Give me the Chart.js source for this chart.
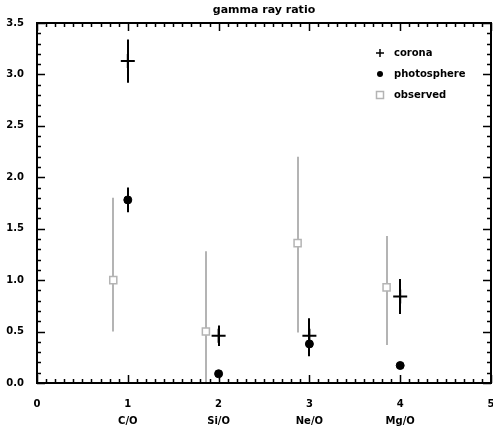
<!DOCTYPE html>
<html>
<head>
<meta charset="utf-8">
<script src="https://cdn.jsdelivr.net/npm/chart.js@4"></script>
<style>
  html, body { margin: 0; padding: 0; background: #fff; overflow: hidden; }
  /* a little wider than the window so the last x label may hang off the edge */
  #wrap { width: 500px; height: 430px; }
</style>
</head>
<body>
<div id="wrap"><canvas id="chart"></canvas></div>
<script>
// ratios per element pair
var categories = ["C/O", "Si/O", "Ne/O", "Mg/O"];
var coronaX = [1, 2, 3, 4];
var coronaY = [3.13, 0.46, 0.46, 0.84];
var coronaErr = [0.21, 0.1, 0.17, 0.17];
var photoX = [1, 2, 3, 4];
var photoY = [1.78, 0.09, 0.38, 0.17];
var photoErr = [0.12, 0.03, 0.12, 0.03];
var obsX = [0.84, 1.86, 2.87, 3.85];
var obsY = [1.0, 0.5, 1.36, 0.93];
var obsHi = [1.8, 1.28, 2.2, 1.43];
var obsLo = [0.5, -0.2, 0.49, 0.37];
var legendNames = ["corona", "photosphere", "observed"];

var FONT = "DejaVu Sans";
var GREY = "#b4b4b4";

function points(xs, ys) {
  return xs.map(function (x, i) { return { x: x, y: ys[i] }; });
}

// vertical error bars, drawn under the markers
var errorBars = {
  id: "errorBars",
  beforeDatasetsDraw(chart) {
    var c = chart.ctx, xs = chart.scales.x, ys = chart.scales.y, a = chart.chartArea;
    c.save();
    c.beginPath();
    c.rect(a.left, a.top, a.right - a.left, a.bottom - a.top);
    c.clip();
    c.lineWidth = 2;
    function bar(x, lo, hi, color) {
      c.strokeStyle = color;
      c.beginPath();
      c.moveTo(Math.round(xs.getPixelForValue(x)), ys.getPixelForValue(lo));
      c.lineTo(Math.round(xs.getPixelForValue(x)), ys.getPixelForValue(hi));
      c.stroke();
    }
    for (var i = 0; i < obsX.length; i++) bar(obsX[i], obsLo[i], obsHi[i], GREY);
    for (var i = 0; i < coronaX.length; i++) bar(coronaX[i], coronaY[i] - coronaErr[i], coronaY[i] + coronaErr[i], "#000");
    for (var i = 0; i < photoX.length; i++) bar(photoX[i], photoY[i] - photoErr[i], photoY[i] + photoErr[i], "#000");
    c.restore();
  },
};

// box, inward ticks, title and legend
var frame = {
  id: "frame",
  afterDraw(chart) {
    var c = chart.ctx, xs = chart.scales.x, ys = chart.scales.y, a = chart.chartArea;
    c.save();
    c.strokeStyle = "#000";
    c.lineWidth = 2;
    c.strokeRect(a.left, a.top, a.right - a.left, a.bottom - a.top);
    c.lineWidth = 1.5;
    c.beginPath();
    for (var k = 0; k <= 50; k++) {
      var v = k / 10;
      var px = Math.round(xs.getPixelForValue(v)) + 0.5;
      var len = k % 10 === 0 ? 8 : 4;
      c.moveTo(px, a.bottom); c.lineTo(px, a.bottom - len);
      c.moveTo(px, a.top); c.lineTo(px, a.top + len);
    }
    for (var k = 0; k <= 35; k++) {
      var v = k / 10;
      var py = Math.round(ys.getPixelForValue(v)) + 0.5;
      var len = k % 5 === 0 ? 8 : 4;
      c.moveTo(a.left, py); c.lineTo(a.left + len, py);
      c.moveTo(a.right, py); c.lineTo(a.right - len, py);
    }
    c.stroke();

    c.fillStyle = "#000";
    c.font = "bold 11px " + FONT;
    c.textAlign = "center";
    c.textBaseline = "middle";
    c.fillText("gamma ray ratio", (a.left + a.right) / 2, 10);

    // legend
    var lx = 380, rows = [53, 74, 95];
    c.font = "bold 10px " + FONT;
    c.textAlign = "left";
    c.lineWidth = 1.5;
    c.strokeStyle = "#000";
    c.beginPath();
    c.moveTo(lx - 4, rows[0]); c.lineTo(lx + 4, rows[0]);
    c.moveTo(lx, rows[0] - 4); c.lineTo(lx, rows[0] + 4);
    c.stroke();
    c.beginPath();
    c.arc(lx, rows[1], 3, 0, Math.PI * 2);
    c.fill();
    c.strokeStyle = GREY;
    c.strokeRect(lx - 3.5, rows[2] - 3.5, 7, 7);
    for (var i = 0; i < legendNames.length; i++) {
      c.fillText(legendNames[i], lx + 14, rows[i]);
    }
    c.restore();
  },
};

var ctx = document.getElementById("chart").getContext("2d");
var myChart = new Chart(ctx, {
  type: "scatter",
  data: {
    datasets: [
      {
        label: legendNames[2],
        data: points(obsX, obsY),
        pointStyle: "rect",
        pointRadius: 5,
        borderWidth: 1.5,
        borderColor: GREY,
        backgroundColor: "#fff",
      },
      {
        label: legendNames[0],
        data: points(coronaX, coronaY),
        pointStyle: "cross",
        pointRadius: 7,
        borderWidth: 2,
        borderColor: "#000",
      },
      {
        label: legendNames[1],
        data: points(photoX, photoY),
        pointStyle: "circle",
        pointRadius: 4,
        borderWidth: 1,
        borderColor: "#000",
        backgroundColor: "#000",
      },
    ],
  },
  options: {
    responsive: true,
    maintainAspectRatio: false,
    animation: false,
    layout: {
      padding: { top: 23, right: 2, left: 0, bottom: 0 },
    },
    plugins: {
      legend: { display: false },
      title: { display: false },
      tooltip: { enabled: false },
    },
    scales: {
      x: {
        type: "linear",
        min: 0,
        max: 5,
        afterFit(scale) { scale.height = 47; },
        grid: { display: false },
        border: { display: false },
        ticks: {
          stepSize: 1,
          padding: 5,
          color: "#000",
          font: { family: FONT, size: 10, weight: "bold", lineHeight: 1.7 },
          maxRotation: 0,
          callback(v) {
            var name = categories[v - 1];
            return name ? [String(v), name] : String(v);
          },
        },
      },
      y: {
        min: 0,
        max: 3.5,
        afterFit(scale) { scale.width = 37; },
        grid: { display: false },
        border: { display: false },
        ticks: {
          stepSize: 0.5,
          padding: 5,
          color: "#000",
          font: { family: FONT, size: 10, weight: "bold" },
          callback(v) { return v.toFixed(1); },
        },
      },
    },
  },
  plugins: [errorBars, frame],
});
</script>
</body>
</html>
